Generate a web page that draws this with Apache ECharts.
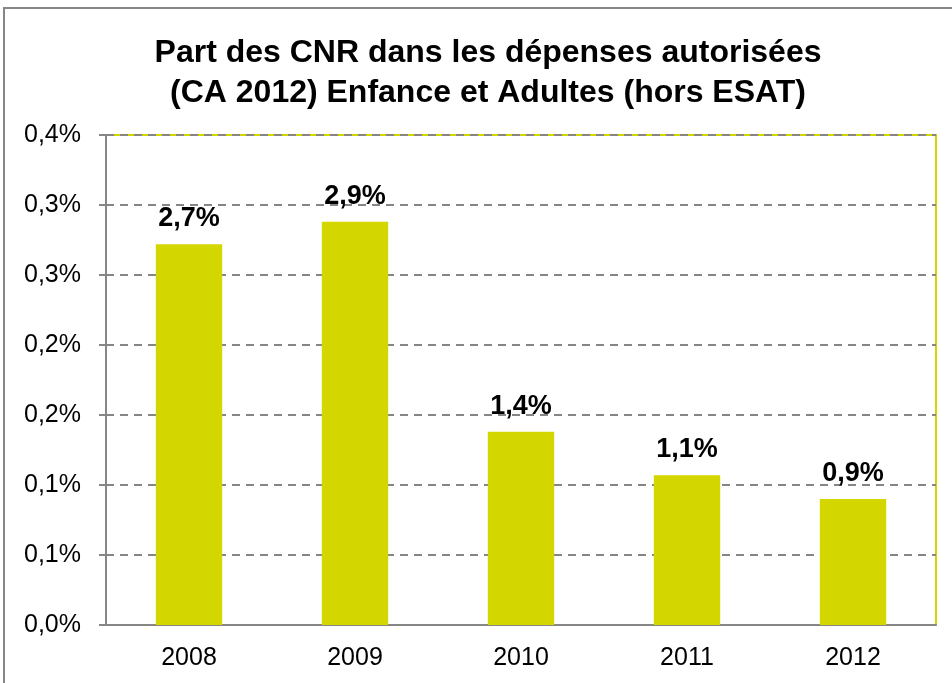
<!DOCTYPE html>
<html>
<head>
<meta charset="utf-8">
<script src="https://cdn.jsdelivr.net/npm/echarts@6/dist/echarts.min.js"></script>
<style>
html, body { margin: 0; padding: 0; background: #fff; }
#chart { width: 952px; height: 683px; }
</style>
</head>
<body>
<div id="chart"></div>
<script>
var years = ['2008', '2009', '2010', '2011', '2012'];
var parts = [0.272, 0.288, 0.138, 0.107, 0.090];
var barLabels = ['2,7%', '2,9%', '1,4%', '1,1%', '0,9%'];
var yTickLabels = ['0,0%', '0,1%', '0,1%', '0,2%', '0,2%', '0,3%', '0,3%', '0,4%'];

(function () {
    var myChart = echarts.init(document.getElementById('chart'));
    var font = 'Liberation Sans, Arial, sans-serif';

    var option = {
        animation: false,
        title: {
            text: 'Part des CNR dans les dépenses autorisées\n(CA 2012) Enfance et Adultes (hors ESAT)',
            left: 483,
            top: 28,
            textAlign: 'center',
            textStyle: {
                fontFamily: font,
                fontSize: 32,
                fontWeight: 'bold',
                color: '#000',
                lineHeight: 40
            }
        },
        graphic: [{
            type: 'rect',
            shape: { x: 4, y: 8, width: 980, height: 700 },
            style: { fill: 'none', stroke: '#868686', lineWidth: 2 },
            silent: true
        }],
        grid: {
            left: 106,
            right: 16,
            top: 135,
            bottom: 58,
            show: true,
            borderColor: '#d4d600',
            borderWidth: 2
        },
        xAxis: {
            type: 'category',
            data: years,
            axisLine: { lineStyle: { color: '#868686', width: 2 } },
            axisTick: { length: 6, lineStyle: { color: '#868686', width: 2 } },
            axisLabel: {
                fontFamily: font,
                fontSize: 25,
                color: '#000',
                margin: 21
            }
        },
        yAxis: {
            type: 'value',
            min: 0,
            max: 0.35,
            interval: 0.05,
            axisLine: { show: true, lineStyle: { color: '#868686', width: 2 } },
            axisTick: { show: true, length: 7, lineStyle: { color: '#868686', width: 2 } },
            splitLine: { lineStyle: { color: '#868686', type: [8, 6], width: 2 } },
            axisLabel: {
                fontFamily: font,
                fontSize: 25,
                color: '#000',
                margin: 25,
                formatter: function (v) {
                    return yTickLabels[Math.round(v / 0.05)];
                }
            }
        },
        series: [{
            type: 'bar',
            data: parts,
            barWidth: '40%',
            itemStyle: { color: '#d4d600' },
            label: {
                show: true,
                position: 'top',
                distance: 12,
                fontFamily: font,
                fontSize: 27,
                fontWeight: 'bold',
                color: '#000',
                formatter: function (p) {
                    return barLabels[p.dataIndex];
                }
            }
        }]
    };

    myChart.setOption(option);
})();
</script>
</body>
</html>
